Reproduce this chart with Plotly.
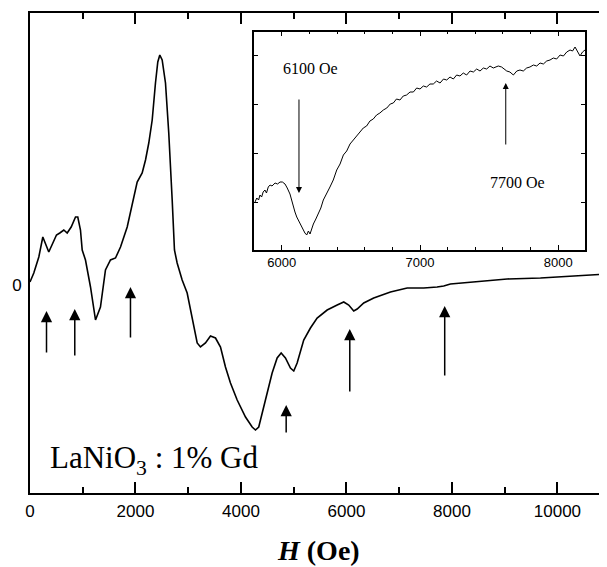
import plotly.graph_objects as go

# ---------------- data ----------------
main_h = [0, 72, 167, 243, 356, 451, 502, 565, 641, 705, 781, 863, 906, 957, 990, 1052,
          1147, 1242, 1336, 1431, 1526, 1621, 1716, 1843, 1937, 2032, 2127, 2190, 2252,
          2317, 2379, 2423, 2461, 2506, 2569, 2631, 2696, 2739, 2790, 2885, 2980, 3075,
          3170, 3232, 3327, 3422, 3517, 3612, 3706, 3801, 3928, 4086, 4212, 4275, 4337,
          4464, 4591, 4686, 4762, 4843, 4938, 5001, 5065, 5190, 5317, 5444, 5634, 5824,
          5949, 6043, 6138, 6203, 6328, 6517, 6707, 6834, 7151, 7465, 7719, 7844, 7971,
          8413, 9046, 9678, 10309, 10948]
main_v = [3, 12, 28, 48, 33, 45, 50, 52, 55, 52, 58, 68, 68, 55, 35, 25,
          -2, -35, -22, 15, 25, 27, 38, 58, 82, 103, 112, 125, 142,
          165, 202, 223, 230, 225, 202, 152, 85, 35, 22, 5, -8, -32,
          -58, -62, -58, -51, -53, -62, -82, -98, -115, -132, -142, -145, -142,
          -115, -88, -73, -68, -73, -83, -86, -78, -55, -43, -33, -25, -20,
          -17, -20, -26, -24, -18, -13, -9, -7, -3, -3, -2, -1, 1,
          3, 6, 7, 9, 11]

arrow_h = [313, 849, 1905, 4857, 6063, 7863]
arrow_tail = [-69, -72, -54, -149, -108, -92]
arrow_tip = [-26, -24, -2, -120, -44, -21]

inset_h = [5807, 5820, 5833, 5843, 5855, 5866, 5879, 5890, 5903, 5916, 5930, 5952, 5970,
           5988, 6005, 6024, 6040, 6060, 6072, 6084, 6096, 6109, 6120, 6132, 6144, 6156,
           6168, 6181, 6193, 6205, 6217, 6229, 6247, 6265, 6283, 6301, 6325, 6349, 6373,
           6398, 6422, 6446, 6470, 6494, 6518, 6542, 6566, 6590, 6614, 6638, 6662, 6686,
           6710, 6735, 6760, 6785, 6807, 6830, 6855, 6879, 6903, 6928, 6952, 6976, 7000,
           7024, 7048, 7072, 7096, 7120, 7145, 7170, 7193, 7217, 7241, 7265, 7289, 7313,
           7337, 7362, 7386, 7410, 7434, 7458, 7482, 7506, 7530, 7566, 7590, 7610, 7627,
           7650, 7675, 7700, 7723, 7747, 7771, 7795, 7820, 7844, 7868, 7892, 7916, 7940,
           7964, 7988, 8013, 8037, 8061, 8085, 8103, 8121, 8139, 8157, 8175, 8193]
inset_v = [48, 52, 50, 55, 53, 58, 60, 57, 63, 65, 64, 67, 66,
           68, 68, 66, 62, 56, 50, 43, 38, 33, 30, 26, 23, 20,
           17, 15, 19, 16, 22, 26, 31, 37, 42, 50, 56, 63, 70,
           80, 86, 95, 99, 106, 110, 114, 118, 122, 124, 129, 131, 135,
           137, 140, 142, 146, 147, 151, 150, 154, 155, 158, 158, 162, 161,
           164, 163, 166, 166, 169, 167, 171, 170, 173, 171, 175, 174, 177,
           175, 179, 178, 181, 179, 182, 181, 184, 182, 184, 183, 181, 179,
           178, 175, 179, 180, 179, 182, 183, 185, 184, 187, 186, 189, 190,
           192, 191, 195, 194, 198, 200, 199, 203, 199, 194, 198, 200]

inset_arrow_h = [6125, 7620]
inset_arrow_tail = [152, 104]
inset_arrow_tip = [57, 167]
inset_labels = ["6100 Oe", "7700 Oe"]
inset_label_h = [6207, 7704]
inset_label_v = [181, 68]

main_xticks = [0, 2000, 4000, 6000, 8000, 10000]
main_xtick_text = ["0", "2000", "4000", "6000", "8000", "10000"]
inset_xticks = [6000, 7000, 8000]
inset_xtick_text = ["6000", "7000", "8000"]
inset_yticks = [48, 97, 146, 195]

# ---------------- figure ----------------
# the page body has an 8 px margin, so the figure is drawn 8 px smaller and
# all window-pixel positions below are expressed in window coordinates
OFF = 8
W, H = 607 - OFF, 567 - OFF
PL, PR, PT, PB = 30, 607, 13, 493          # plot-area edges in window pixels
ml, mt = PL - OFF, PT - OFF
mr = (607 - PR)
mb = 567 - PB
pw, ph = PR - PL, PB - PT

def px_x(px):
    return (px - PL) / pw

def px_y(py):
    return (PB - py) / ph

fig = go.Figure()
fig.add_trace(go.Scatter(x=main_h, y=main_v, mode="lines",
                         line=dict(color="black", width=1.6), xaxis="x", yaxis="y",
                         hoverinfo="skip", showlegend=False))
fig.add_trace(go.Scatter(x=inset_h, y=inset_v, mode="lines",
                         line=dict(color="black", width=1.0), xaxis="x3", yaxis="y3",
                         hoverinfo="skip", showlegend=False))

annotations = []
for h, t0, t1 in zip(arrow_h, arrow_tail, arrow_tip):
    annotations.append(dict(x=h, y=t1, ax=h, ay=t0, xref="x", yref="y", axref="x", ayref="y",
                            text="", showarrow=True, arrowhead=2, arrowsize=1.5,
                            arrowwidth=1.5, arrowcolor="black", standoff=0))
for h, t0, t1 in zip(inset_arrow_h, inset_arrow_tail, inset_arrow_tip):
    annotations.append(dict(x=h, y=t1, ax=h, ay=t0, xref="x3", yref="y3", axref="x3", ayref="y3",
                            text="", showarrow=True, arrowhead=2, arrowsize=1.2,
                            arrowwidth=1.0, arrowcolor="black", standoff=0))
for txt, h, v in zip(inset_labels, inset_label_h, inset_label_v):
    annotations.append(dict(x=h, y=v, xref="x3", yref="y3", text=txt, showarrow=False,
                            font=dict(family="Liberation Serif", size=16, color="black"),
                            xanchor="center", yanchor="middle"))
annotations.append(dict(x=px_x(48), y=px_y(482), xref="paper", yref="paper",
                        text="LaNiO<sub>3</sub> : 1% Gd", showarrow=False,
                        font=dict(family="Liberation Serif", size=31, color="black"),
                        xanchor="left", yanchor="bottom"))
annotations.append(dict(x=px_x(318), y=px_y(550), xref="paper", yref="paper",
                        text="<b><i>H</i> (Oe)</b>", showarrow=False,
                        font=dict(family="Liberation Serif", size=28, color="black"),
                        xanchor="center", yanchor="middle"))

tickfont = dict(family="Liberation Sans", size=17, color="black")

fig.update_layout(
    width=W, height=H,
    margin=dict(l=ml, r=mr, t=mt, b=mb, pad=0, autoexpand=False),
    paper_bgcolor="white", plot_bgcolor="white",
    showlegend=False,
    annotations=annotations,
    xaxis=dict(range=[0, 10940], tickvals=main_xticks, ticktext=main_xtick_text,
               ticks="inside", ticklen=11,
               tickwidth=1.5, tickcolor="black", showline=True, linewidth=2,
               linecolor="black", mirror="ticks", showgrid=False, zeroline=False,
               tickfont=tickfont, ticklabelstandoff=2, automargin=False,
               minor=dict(dtick=1000, tick0=0, ticks="inside", ticklen=6,
                          tickwidth=1.5, tickcolor="black", showgrid=False),
               anchor="y"),
    yaxis=dict(range=[-208, 272], tickvals=[0], ticktext=["0"], ticks="",
               showline=True, linewidth=2, linecolor="black", showgrid=False,
               zeroline=False, tickfont=tickfont, ticklabelstandoff=3,
               automargin=False, anchor="x"),
    xaxis3=dict(domain=[px_x(254.3), px_x(585)], range=[5802, 8193],
                tickvals=inset_xticks, ticktext=inset_xtick_text,
                ticks="inside", ticklen=5, tickwidth=1.2,
                tickcolor="black", showline=True, linewidth=1.5, linecolor="black",
                mirror="ticks", showgrid=False, zeroline=False,
                tickfont=dict(family="Liberation Sans", size=13, color="black"),
                ticklabelstandoff=0, automargin=False,
                minor=dict(dtick=200, tick0=6000, ticks="inside", ticklen=3,
                           tickwidth=1, tickcolor="black", showgrid=False),
                anchor="y3"),
    yaxis3=dict(domain=[px_y(250), px_y(31.7)], range=[0, 218.3],
                tickvals=inset_yticks, ticks="inside", ticklen=4, tickwidth=1.2,
                tickcolor="black", showticklabels=False, showline=True, linewidth=1.5,
                linecolor="black", mirror="ticks", showgrid=False, zeroline=False,
                automargin=False, anchor="x3"),
)

fig.write_html("out.html")
